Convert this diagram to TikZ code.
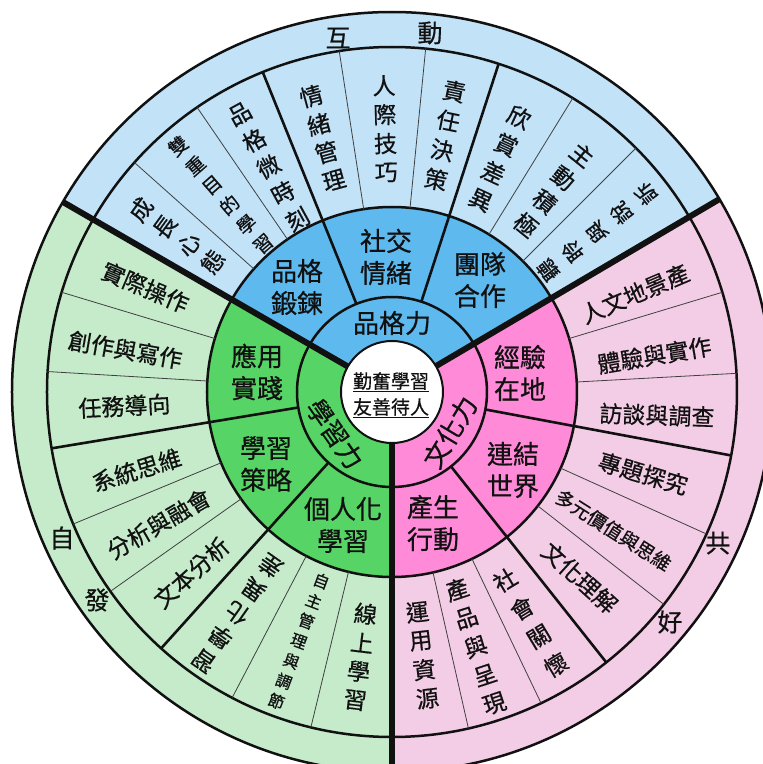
\documentclass[tikz,border=0pt]{standalone}
\usepackage{fontspec}
\setmainfont{Noto Sans CJK TC}[FakeBold=0.6]
\definecolor{lblue}{RGB}{194,226,247}
\definecolor{mblue}{RGB}{93,185,238}
\definecolor{lgreen}{RGB}{197,235,203}
\definecolor{mgreen}{RGB}{87,212,102}
\definecolor{lpink}{RGB}{243,205,229}
\definecolor{mpink}{RGB}{255,139,216}
\definecolor{ink}{RGB}{17,17,17}
\newcommand\vstack[8][]{% [style] name, angle, center r, signed spacing, rotation, n, list
  \foreach \ch [count=\i] in {#8} {
    \node[itm,#1,rotate=#6] (#2-\i) at ({#3}:{#4+(#5)*((#7+1)/2-\i)}) {\ch};
  }}
\begin{document}
\begin{tikzpicture}[x=1pt,y=1pt,
  itm/.style={font=\fontsize{23}{23}\selectfont, inner sep=0pt, text=ink},
  small/.style={font=\fontsize{19}{19}\selectfont},
  mid/.style={font=\fontsize{21}{21}\selectfont},
  tiny/.style={font=\fontsize{16}{16}\selectfont},
  cat/.style={font=\fontsize{26}{32}\selectfont, align=center, inner sep=0pt, text=ink},
  ringtxt/.style={font=\fontsize{26}{26}\selectfont, inner sep=0pt, text=ink},
  outertxt/.style={font=\fontsize{25}{25}\selectfont, inner sep=0pt, text=ink},
  circ/.style={draw=ink, line width=2.5pt},
  catline/.style={draw=ink, line width=2.6pt},
  itemline/.style={draw=black!75, line width=0.8pt},
  thickline/.style={draw=ink, line width=6pt}]
\def\rA{51}\def\rB{95}\def\rC{185}\def\rD{345}\def\rE{380}
\useasboundingbox (-392,-372) rectangle (371,392);
\clip (-392,-372) rectangle (371,392);
\fill[white] (-392,-372) rectangle (371,392);
% light sectors
\fill[lblue] (0,0) -- (30.5:\rE) arc[start angle=30.5, end angle=150, radius=\rE] -- cycle;
\fill[lgreen] (0,0) -- (150:\rE) arc[start angle=150, end angle=270, radius=\rE] -- cycle;
\fill[lpink] (0,0) -- (270:\rE) arc[start angle=270, end angle=390.5, radius=\rE] -- cycle;
% medium sectors
\fill[mblue] (0,0) -- (30.5:\rC) arc[start angle=30.5, end angle=150, radius=\rC] -- cycle;
\fill[mgreen] (0,0) -- (150:\rC) arc[start angle=150, end angle=270, radius=\rC] -- cycle;
\fill[mpink] (0,0) -- (270:\rC) arc[start angle=270, end angle=390.5, radius=\rC] -- cycle;
% circles
\draw[circ] (0,0) circle[radius=\rB];
\draw[circ] (0,0) circle[radius=\rC];
\draw[circ] (0,0) circle[radius=\rD];
\draw[circ] (0,0) circle[radius=\rE];
% item lines
\foreach \a in {138.3,124.4,98.8,84.4,58.4,45,163.2,176.6,202.5,215.3,242.4,256.4,16.8,3.1,-24.3,-38,-64.4,-77.2}
  \draw[itemline] (\a:\rC) -- (\a:\rD);
% category lines
\foreach \a in {112,72,189.4,228,-10.6,-51.6}
  \draw[catline] (\a:\rB) -- (\a:\rD);
% thick dividers
\draw[thickline] (150:\rA) -- (150:\rE);
\draw[thickline] (30.5:\rA) -- (30.5:\rE);
\draw[thickline] (270:\rA) -- (270:400);
% centre
\filldraw[fill=white, draw=ink, line width=2pt] (0,0) circle[radius=\rA];
\node[font=\fontsize{19}{26}\selectfont, align=center, inner sep=0pt, text=ink] (core) at (-1,-3)
  {\underline{勤奮學習}\\\underline{友善待人}};
% inner ring
\node[ringtxt] (pgl) at (0,69) {品格力};
\node[ringtxt, rotate=-55] (xxl) at (-57,-42) {學習力};
\node[ringtxt, rotate=59] (whl) at (58,-40) {文化力};
% categories
\node[cat] (c1) at (-95,105) {品格\\鍛鍊};
\node[cat] (c2) at (-6,135) {社交\\情緒};
\node[cat] (c3) at (88,112) {團隊\\合作};
\node[cat] (c4) at (-135,20) {應用\\實踐};
\node[cat] (c5) at (-126,-72) {學習\\策略};
\node[cat] (c6) at (-49,-133) {個人化\\學習};
\node[cat] (c7) at (128,19) {經驗\\在地};
\node[cat] (c8) at (121,-78) {連結\\世界};
\node[cat] (c9) at (41,-131) {產生\\行動};
% blue items (vertical, reading inward)
\vstack{b1}{144}{266}{29.5}{54}{4}{成,長,心,態}
\vstack[small]{b2}{131}{261}{26}{41}{6}{雙,重,目,的,學,習}
\vstack{b3}{118.7}{257}{30}{28.7}{5}{品,格,微,時,刻}
\vstack{b4}{105.3}{263}{29}{15.3}{4}{情,緒,管,理}
\vstack{b5}{91.5}{263}{29}{1.5}{4}{人,際,技,巧}
\vstack{b6}{78.3}{262}{30}{-11.7}{4}{責,任,決,策}
\vstack{b7}{65.2}{257}{30.5}{-24.8}{4}{欣,賞,差,異}
\vstack{b8}{51.3}{259}{30}{-38.7}{4}{主,動,積,極}
\vstack[mid]{b9}{38}{260}{31}{128}{5}{訴,說,與,聆,聽}
% green items
\node[itm, rotate=-23] (g1) at (157:268) {實際操作};
\node[itm, rotate=-10] (g2) at (171:270) {創作與寫作};
\node[itm, rotate=3] (g3) at (183:268) {任務導向};
\node[itm, rotate=17] (g4) at (197:267) {系統思維};
\node[itm, rotate=30] (g5) at (209.5:268) {分析與融會};
\node[itm, rotate=42] (g6) at (222:270) {文本分析};
\vstack{g7}{235}{270}{-29}{145}{5}{差,異,化,學,習}
\vstack[tiny]{g8}{249.5}{266}{-21.4}{-20.5}{7}{自,主,管,理,與,調,節}
\vstack{g9}{263.2}{267}{-29}{-6.8}{4}{線,上,學,習}
% pink items
\node[itm, rotate=23] (p1) at (22:262) {人文地景產};
\node[itm, rotate=9.5] (p2) at (8:265) {體驗與實作};
\node[itm, rotate=-2] (p3) at (-5:266) {訪談與調查};
\node[itm, rotate=-16.5] (p4) at (-18:264) {專題探究};
\node[itm, small, rotate=-32.5] (p5) at (-32:261) {多元價值與思維};
\node[itm, rotate=-42] (p6) at (-44.7:264) {文化理解};
\vstack{p7}{-59}{269}{-33}{31}{4}{社,會,關,懷}
\vstack{p8}{-71.8}{268}{-30}{18.2}{5}{產,品,與,呈,現}
\vstack{p9}{-83.4}{265}{-29}{6.6}{4}{運,用,資,源}
% outer ring
\node[outertxt] (o1) at (-54,354) {互};
\node[outertxt] (o2) at (38,359) {動};
\node[outertxt] (o3) at (-330,-146) {自};
\node[outertxt] (o4) at (-295,-208) {發};
\node[outertxt] (o5) at (326,-151) {共};
\node[outertxt] (o6) at (278,-230) {好};
\end{tikzpicture}
\end{document}
